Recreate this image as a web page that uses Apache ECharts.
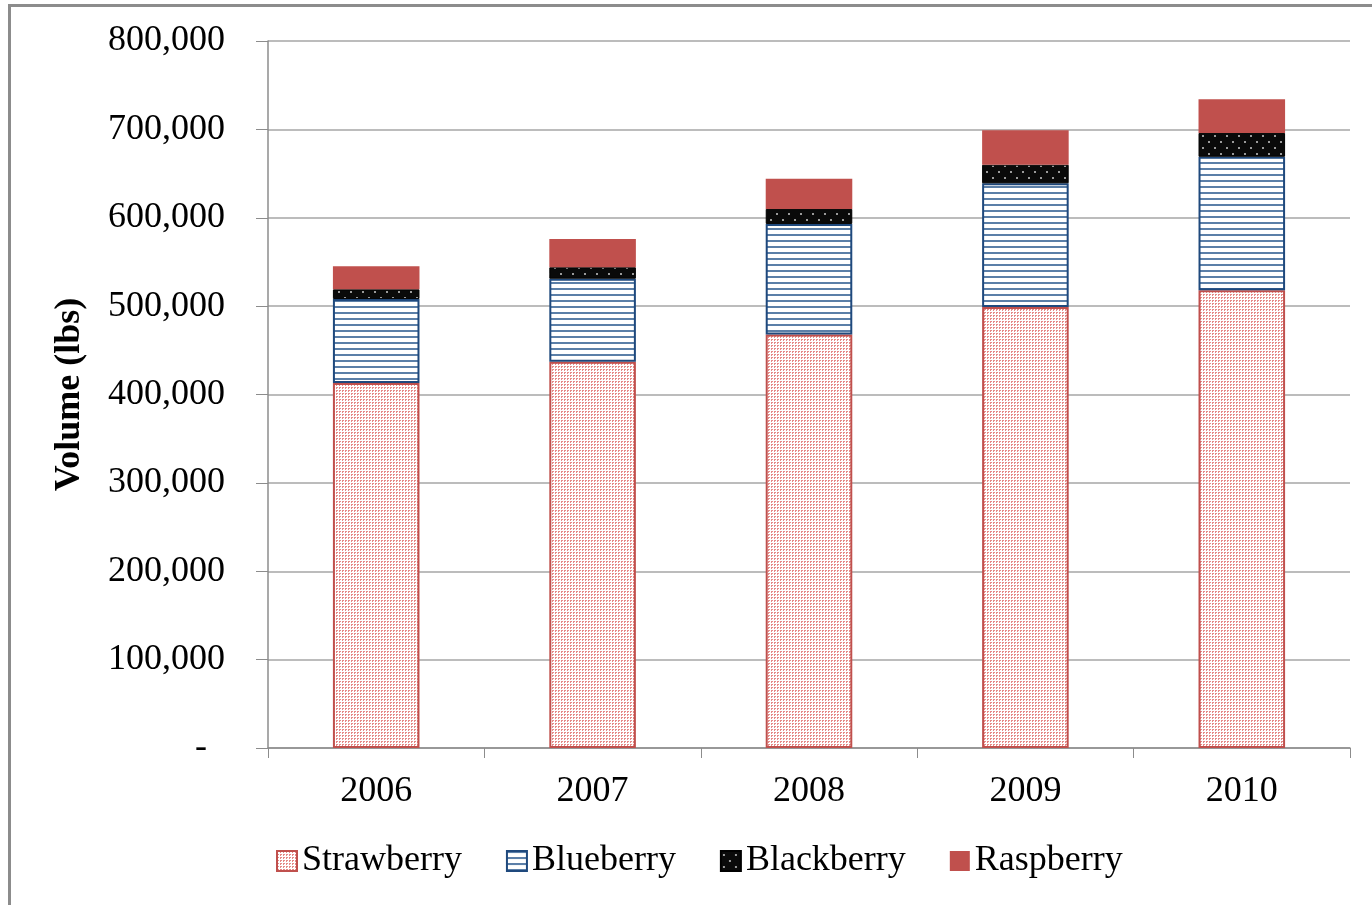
<!DOCTYPE html>
<html>
<head>
<meta charset="utf-8">
<script src="https://cdn.jsdelivr.net/npm/echarts@6/dist/echarts.min.js"></script>
<style>
  html, body { margin: 0; padding: 0; background: #fff; }
  #frame {
    position: absolute; left: 8px; top: 4px; width: 1380px; height: 920px;
    border: 3px solid #8c8c8c; box-sizing: border-box;
  }
  #chart { position: absolute; left: 0; top: 0; width: 1372px; height: 905px; }
</style>
</head>
<body>
<div id="frame"></div>
<div id="chart"></div>
<script>
// 数据
var years = ["2006", "2007", "2008", "2009", "2010"];
var strawberry = [413000, 437000, 468000, 499000, 518000];
var blueberry = [95000, 94000, 125000, 140000, 151000];
var blackberry = [11000, 13000, 17000, 21000, 27000];
var raspberry = [26000, 32000, 34000, 39000, 38000];
var yTicks = [0, 100000, 200000, 300000, 400000, 500000, 600000, 700000, 800000];

var serif = "'Liberation Serif', 'Times New Roman', serif";

// 图案填充
function makePattern(w, h, draw) {
  var c = document.createElement("canvas");
  c.width = w;
  c.height = h;
  draw(c.getContext("2d"));
  return { image: c, repeat: "repeat" };
}

var dotRed = makePattern(3, 3, function (ctx) {
  ctx.fillStyle = "#ffffff";
  ctx.fillRect(0, 0, 3, 3);
  ctx.fillStyle = "#e58a88";
  ctx.fillRect(0, 0, 2, 1);
  ctx.fillRect(0, 1, 1, 1);
});

var stripeBlue = makePattern(8, 6, function (ctx) {
  ctx.fillStyle = "#ffffff";
  ctx.fillRect(0, 0, 8, 6);
  ctx.fillStyle = "#5b7fa8";
  ctx.fillRect(0, 0, 8, 2);
});

var dotBlack = makePattern(12, 12, function (ctx) {
  ctx.fillStyle = "#0a0a0a";
  ctx.fillRect(0, 0, 12, 12);
  ctx.fillStyle = "#9a9a9a";
  ctx.fillRect(2, 3, 2, 2);
  ctx.fillRect(8, 9, 2, 2);
});

var chart = echarts.init(document.getElementById("chart"));

var option = {
  backgroundColor: "transparent",
  animation: false,
  grid: { left: 268, right: 22, top: 41, bottom: 157 },
  legend: {
    left: 271,
    top: 838,
    icon: "rect",
    itemWidth: 20,
    itemHeight: 20,
    itemGap: 44,
    textStyle: { fontFamily: serif, fontSize: 36, color: "#000" },
    data: ["Strawberry", "Blueberry", "Blackberry", "Raspberry"]
  },
  xAxis: {
    type: "category",
    data: years,
    axisLine: { lineStyle: { color: "#8c8c8c", width: 1.5 } },
    axisTick: { show: true, length: 10, alignWithLabel: false, lineStyle: { color: "#8c8c8c" } },
    axisLabel: { fontFamily: serif, fontSize: 36, color: "#000", margin: 26 }
  },
  yAxis: {
    type: "value",
    min: 0,
    max: 800000,
    interval: 100000,
    name: "Volume (lbs)",
    nameLocation: "middle",
    nameRotate: 90,
    nameGap: 180,
    nameTextStyle: { fontFamily: serif, fontSize: 36, fontWeight: "bold", color: "#000" },
    axisLine: { show: true, lineStyle: { color: "#8c8c8c", width: 1.5 } },
    axisTick: { show: true, length: 12, lineStyle: { color: "#8c8c8c" } },
    splitLine: { lineStyle: { color: "#a6a6a6", width: 1.5 } },
    axisLabel: {
      fontFamily: serif, fontSize: 36, color: "#000", margin: 43,
      formatter: function (v) {
        if (yTicks.indexOf(v) < 0) return "";
        return v === 0 ? "-\u00a0\u00a0" : v.toLocaleString("en-US");
      }
    }
  },
  series: [
    {
      name: "Strawberry", type: "bar", stack: "total", barWidth: "40%",
      data: strawberry,
      itemStyle: { color: dotRed, borderColor: "#c0504d", borderWidth: 2 }
    },
    {
      name: "Blueberry", type: "bar", stack: "total",
      data: blueberry,
      itemStyle: { color: stripeBlue, borderColor: "#1f497d", borderWidth: 2 }
    },
    {
      name: "Blackberry", type: "bar", stack: "total",
      data: blackberry,
      itemStyle: { color: dotBlack, borderColor: "#000", borderWidth: 1 }
    },
    {
      name: "Raspberry", type: "bar", stack: "total",
      data: raspberry,
      itemStyle: { color: "#c0504d" }
    }
  ]
};

chart.setOption(option);
</script>
</body>
</html>
